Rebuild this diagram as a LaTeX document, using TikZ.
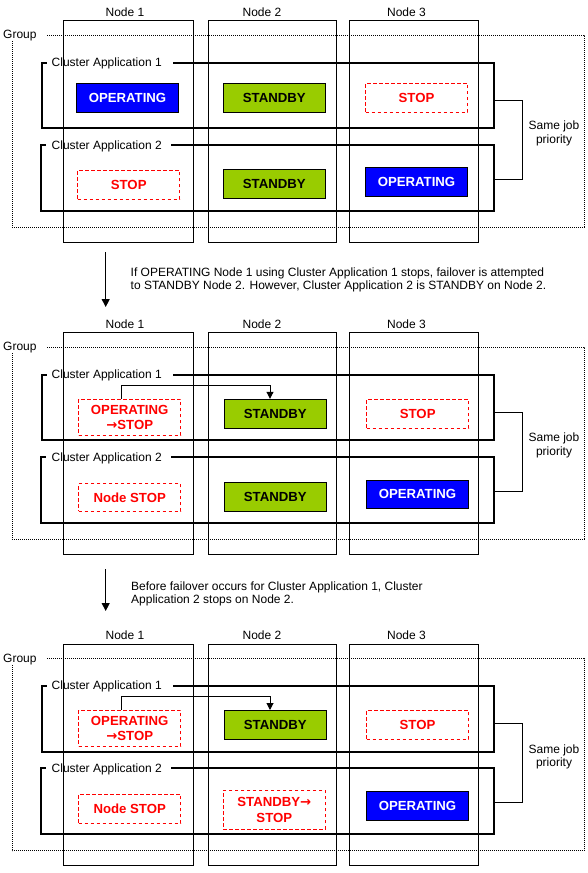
\documentclass[tikz,border=0pt]{standalone}
\usepackage{fontspec}
\setmainfont{Liberation Sans}
\newfontfamily\arrowfont{DejaVu Sans}
\usetikzlibrary{arrows.meta}
\definecolor{sbgreen}{RGB}{153,204,0}
\definecolor{opblue}{RGB}{0,0,255}
\definecolor{stred}{RGB}{255,0,0}
\newcommand\rarr{{\arrowfont\bfseries →}}
\tikzset{
  col/.style={draw=black, line width=1pt, inner sep=0pt},
  clf/.style={line width=2pt, line join=miter},
  grp/.style={line width=0.8pt, dash pattern=on 1pt off 1pt},
  lbl/.style={font=\fontsize{12}{13.3}\selectfont, inner sep=0pt},
  stbase/.style={minimum width=102pt, minimum height=29pt, inner sep=0pt,
     font=\bfseries\fontsize{13.2}{15.6}\selectfont, align=center, line width=1pt},
  opbox/.style={stbase, fill=opblue, draw=black, text=white},
  sbbox/.style={stbase, fill=sbgreen, draw=black, text=black},
  stbox/.style={stbase, draw=stred, dash pattern=on 3.5pt off 2.5pt, text=stred},
  brk/.style={line width=1pt},
  fo/.style={line width=1pt, -{Triangle[length=7pt,width=7pt]}},
  bigarrow/.style={line width=1pt, -{Triangle[length=8pt,width=8pt]}}
}
\newcommand\panelframe{%
  \node[col, minimum width=130pt, minimum height=221.3pt] (col1) at (128,131.35) {};
  \node[col, minimum width=128.5pt, minimum height=221.3pt] (col2) at (272.25,131.35) {};
  \node[col, minimum width=129pt, minimum height=221.3pt] (col3) at (414,131.35) {};
  \node[lbl, anchor=base] (n1lab) at (125,16) {Node 1};
  \node[lbl, anchor=base] (n2lab) at (262,16) {Node 2};
  \node[lbl, anchor=base] (n3lab) at (406.5,16) {Node 3};
  \node[lbl, anchor=base west] (grplab) at (3,38.5) {Group};
  \draw[grp] (47,35) -- (584,35) -- (584,227) -- (12,227) -- (12,41);
  \node[lbl, anchor=base west] (ca1) at (51.5,66) {Cluster Application 1};
  \draw[clf] (46.5,62.5) -- (42,62.5) -- (42,128.3) -- (493.7,128.3) -- (493.7,62.5) -- (172.5,62.5);
  \node[lbl, anchor=base west] (ca2) at (51.5,149) {Cluster Application 2};
  \draw[clf] (45.5,144.7) -- (41,144.7) -- (41,210.5) -- (493.7,210.5) -- (493.7,144.7) -- (171,144.7);
  \draw[brk] (493.7,100.2) -- (522.8,100.2) -- (522.8,179.3) -- (493.7,179.3);
  \node[lbl, align=center] (prio) at (554,133.3) {Same job\\priority};
}
\begin{document}
\begin{tikzpicture}[x=1pt,y=-1pt]
\useasboundingbox (0,0) rectangle (588,873);
% ---------- panel 1
\begin{scope}[name prefix=p1-]
  \panelframe
  \node[opbox] (a1n1) at (127.5,97.8) {OPERATING};
  \node[sbbox] (a1n2) at (274.3,97.8) {STANDBY};
  \node[stbox] (a1n3) at (416.5,97.7) {STOP};
  \node[stbox] (a2n1) at (128.7,184.8) {STOP};
  \node[sbbox] (a2n2) at (274.3,183.8) {STANDBY};
  \node[opbox] (a2n3) at (416.5,182) {OPERATING};
\end{scope}
% ---------- transition 1
\coordinate (s1) at (105.7,252);
\coordinate (e1) at (105.7,307);
\draw[bigarrow] (s1) -- (e1);
\node[lbl, anchor=north west, align=left] (txt1) at (130.5,267.2)
  {If OPERATING Node 1 using Cluster Application 1 stops, failover is attempted\\to STANDBY Node 2. However, Cluster Application 2 is STANDBY on Node 2.};
% ---------- panel 2
\begin{scope}[yshift=-312pt, name prefix=p2-]
  \panelframe
  \node[stbox, minimum height=36pt] (a1n1) at (129.7,105.3) {OPERATING\\\rarr STOP};
  \node[sbbox] (a1n2) at (275.3,101.8) {STANDBY};
  \node[stbox] (a1n3) at (417.7,101.8) {STOP};
  \node[stbox, minimum height=27.6pt] (a2n1) at (129.7,185.5) {Node STOP};
  \node[sbbox] (a2n2) at (275.3,185) {STANDBY};
  \node[opbox, minimum height=28pt] (a2n3) at (417.5,182.3) {OPERATING};
  \coordinate (t1) at (121.3,73.7);
  \draw[fo] ([xshift=-8.4pt]a1n1.north) -- (t1) -| ([xshift=-5.3pt]a1n2.north);
\end{scope}
% ---------- transition 2
\coordinate (s2) at (105.7,569);
\coordinate (e2) at (105.7,611);
\draw[bigarrow] (s2) -- (e2);
\node[lbl, anchor=north west, align=left] (txt2) at (131,581.5)
  {Before failover occurs for Cluster Application 1, Cluster\\Application 2 stops on Node 2.};
% ---------- panel 3
\begin{scope}[yshift=-623.5pt, name prefix=p3-]
  \panelframe
  \node[stbox, minimum height=36pt] (a1n1) at (129.7,104.8) {OPERATING\\\rarr STOP};
  \node[sbbox] (a1n2) at (275.3,101.5) {STANDBY};
  \node[stbox] (a1n3) at (417.5,101.3) {STOP};
  \node[stbox] (a2n1) at (129.7,185.3) {Node STOP};
  \node[stbox, minimum height=39pt] (a2n2) at (274.3,186.3) {STANDBY\rarr\\STOP};
  \node[opbox] (a2n3) at (417.5,182.3) {OPERATING};
  \coordinate (t1) at (121.3,73.2);
  \draw[fo] ([xshift=-8.4pt]a1n1.north) -- (t1) -| ([xshift=-5.3pt]a1n2.north);
\end{scope}
\end{tikzpicture}
\end{document}
